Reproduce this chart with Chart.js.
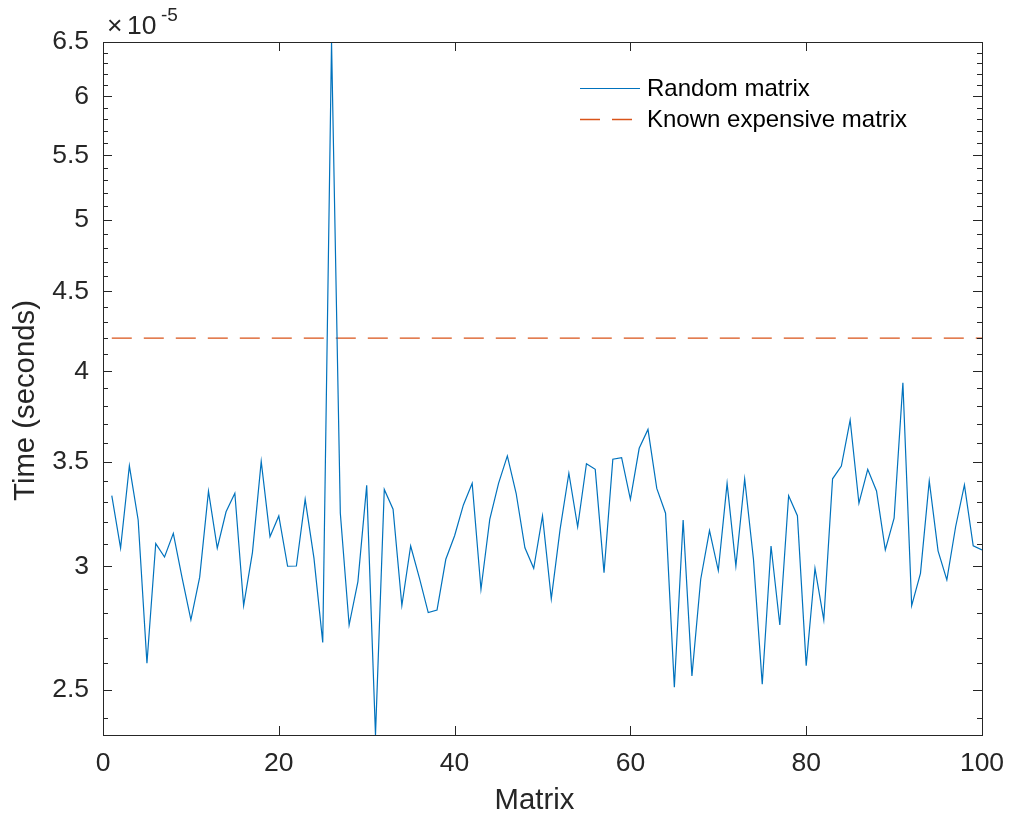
<!DOCTYPE html>
<html>
<head>
<meta charset="utf-8">
<script src="https://cdn.jsdelivr.net/npm/chart.js@4.4.0/dist/chart.umd.min.js"></script>
<style>
  html, body { margin: 0; padding: 0; background: #ffffff; }
  #wrap { width: 1009px; height: 816px; }
</style>
</head>
<body>
<div id="wrap"><canvas id="timing" width="1009" height="816"></canvas></div>
<script>
// Run time of each random matrix, in units of 1e-5 seconds
const randomTimes = [
  3.329, 3.081, 3.479, 3.212, 2.600, 3.102, 3.041, 3.149, 2.949, 2.772,
  2.952, 3.351, 3.081, 3.251, 3.341, 2.831, 3.061, 3.502, 3.134, 3.231,
  3.000, 3.001, 3.311, 3.036, 2.681, 6.500, 3.244, 2.751, 2.933, 3.380,
  2.339, 3.360, 3.263, 2.831, 3.091, 2.948, 2.802, 2.812, 3.031, 3.138,
  3.284, 3.390, 2.900, 3.215, 3.390, 3.530, 3.341, 3.083, 2.991, 3.231,
  2.859, 3.168, 3.441, 3.180, 3.490, 3.461, 2.972, 3.513, 3.521, 3.311,
  3.570, 3.671, 3.365, 3.244, 2.510, 3.212, 2.552, 2.943, 3.162, 2.981,
  3.390, 3.001, 3.412, 3.031, 2.521, 3.091, 2.751, 3.329, 3.232, 2.591,
  2.991, 2.772, 3.413, 3.478, 3.722, 3.292, 3.461, 3.352, 3.073, 3.220,
  3.932, 2.831, 2.969, 3.402, 3.069, 2.940, 3.180, 3.382, 3.092, 3.073
];
// Matrix numbers 1..N along the x axis
const matrixIndex = randomTimes.map((_, i) => i + 1);
// Reference time of the known expensive matrix (1e-5 s)
const knownExpensiveTime = 4.2;

// Axis ticks and titles
const xTicks = [0, 20, 40, 60, 80, 100];
const yMajorTicks = [2.5, 3, 3.5, 4, 4.5, 5, 5.5, 6, 6.5];
const yTickLabels = ['2.5', '3', '3.5', '4', '4.5', '5', '5.5', '6', '6.5'];
const yMinorTicks = [2.4, 2.6, 2.7, 2.8, 2.9, 3.1, 3.2, 3.3, 3.4, 3.6, 3.7, 3.8, 3.9,
  4.1, 4.2, 4.3, 4.4, 4.6, 4.7, 4.8, 4.9, 5.1, 5.2, 5.3, 5.4, 5.6, 5.7, 5.8, 5.9,
  6.1, 6.2, 6.3, 6.4];
const xTitle = 'Matrix';
const yTitle = 'Time (seconds)';

const FONT = '"Liberation Sans", Arial, Helvetica, sans-serif';
const INK = '#262626';
Chart.defaults.font.family = FONT;
Chart.defaults.color = INK;

const round1 = v => Math.round(v * 10) / 10;
const majorIndex = v => yMajorTicks.indexOf(round1(v));

// Box around the plot plus inward tick marks on all four sides
const axesFrame = {
  id: 'axesFrame',
  afterDraw(chart) {
    const { ctx, chartArea: a, scales: { x, y } } = chart;
    ctx.save();
    ctx.strokeStyle = INK;
    ctx.lineWidth = 1;
    ctx.beginPath();
    x.ticks.forEach(t => {
      const px = Math.round(x.getPixelForValue(t.value)) + 0.5;
      ctx.moveTo(px, a.bottom); ctx.lineTo(px, a.bottom - 9);
      ctx.moveTo(px, a.top); ctx.lineTo(px, a.top + 9);
    });
    y.ticks.forEach(t => {
      const len = majorIndex(t.value) >= 0 ? 9 : 5;
      const py = Math.round(y.getPixelForValue(t.value)) + 0.5;
      ctx.moveTo(a.left, py); ctx.lineTo(a.left + len, py);
      ctx.moveTo(a.right, py); ctx.lineTo(a.right - len, py);
    });
    ctx.stroke();
    ctx.strokeRect(Math.round(a.left) + 0.5, Math.round(a.top) + 0.5,
                   Math.round(a.width), Math.round(a.height));
    ctx.restore();
  }
};

// Axis titles and the exponent multiplier above the y axis
const axisText = {
  id: 'axisText',
  afterDraw(chart) {
    const { ctx, chartArea: a } = chart;
    ctx.save();
    ctx.fillStyle = INK;
    ctx.font = '29.3px ' + FONT;
    ctx.textAlign = 'center';
    ctx.textBaseline = 'middle';
    ctx.fillText(xTitle, (a.left + a.right) / 2 - 8, 801);
    ctx.save();
    ctx.translate(26, (a.top + a.bottom) / 2 + 12);
    ctx.rotate(-Math.PI / 2);
    ctx.fillText(yTitle, 0, 0);
    ctx.restore();

    ctx.textBaseline = 'alphabetic';
    ctx.textAlign = 'left';
    ctx.font = '26.5px ' + FONT;
    ctx.fillText('\u00d7', 107, 33.5);
    ctx.fillText('10', 127, 33.5);
    ctx.font = '19px ' + FONT;
    ctx.fillText('-5', 161, 21);
    ctx.restore();
  }
};

// Legend without a frame, inside the plot area
const lineLegend = {
  id: 'lineLegend',
  afterDraw(chart) {
    const { ctx } = chart;
    const rows = [88, 119];
    ctx.save();
    chart.data.datasets.forEach((ds, i) => {
      const ly = rows[i] + 0.5;
      ctx.strokeStyle = ds.borderColor;
      ctx.lineWidth = ds.borderWidth;
      ctx.setLineDash(ds.borderDash || []);
      ctx.beginPath();
      ctx.moveTo(580, ly);
      ctx.lineTo(640, ly);
      ctx.stroke();
      ctx.setLineDash([]);
      ctx.fillStyle = '#000000';
      ctx.font = '24px ' + FONT;
      ctx.textBaseline = 'middle';
      ctx.textAlign = 'left';
      ctx.fillText(ds.label, 647, rows[i] + 1.5);
    });
    ctx.restore();
  }
};

new Chart(document.getElementById('timing'), {
  type: 'line',
  data: {
    datasets: [
      {
        label: 'Random matrix',
        data: matrixIndex.map((m, i) => ({ x: m, y: randomTimes[i] })),
        borderColor: '#0072BD',
        borderWidth: 1.2,
        pointRadius: 0,
        tension: 0,
        fill: false
      },
      {
        label: 'Known expensive matrix',
        data: [
          { x: matrixIndex[0], y: knownExpensiveTime },
          { x: matrixIndex[matrixIndex.length - 1], y: knownExpensiveTime }
        ],
        borderColor: '#D95319',
        borderWidth: 1.4,
        borderDash: [20, 12],
        pointRadius: 0,
        tension: 0,
        fill: false
      }
    ]
  },
  options: {
    responsive: false,
    animation: false,
    devicePixelRatio: 1,
    layout: { padding: { top: 42, right: 27, left: 0, bottom: 0 } },
    plugins: { legend: { display: false }, tooltip: { enabled: false } },
    scales: {
      x: {
        type: 'linear',
        min: 0,
        max: 100,
        afterFit(s) { s.height = 81; s.paddingLeft = 0; s.paddingRight = 0; },
        afterBuildTicks(s) { s.ticks = xTicks.map(v => ({ value: v })); },
        grid: { display: false, drawTicks: false },
        border: { display: false },
        ticks: {
          padding: 13,
          autoSkip: false,
          maxRotation: 0,
          color: INK,
          font: { size: 26.5 },
          callback: v => String(v)
        },
        title: { display: false }
      },
      y: {
        type: 'logarithmic',
        min: Math.min(...randomTimes),
        max: Math.max(...randomTimes),
        afterFit(s) { s.width = 103; s.paddingTop = 0; s.paddingBottom = 0; },
        afterBuildTicks(s) {
          s.ticks = [...yMajorTicks, ...yMinorTicks]
            .sort((a, b) => a - b)
            .map(v => ({ value: v }));
        },
        grid: { display: false, drawTicks: false },
        border: { display: false },
        ticks: {
          padding: 14,
          autoSkip: false,
          color: INK,
          font: { size: 26.5 },
          callback: v => {
            const k = majorIndex(v);
            return k >= 0 ? yTickLabels[k] : '';
          }
        },
        title: { display: false }
      }
    }
  },
  plugins: [axesFrame, axisText, lineLegend]
});
</script>
</body>
</html>
